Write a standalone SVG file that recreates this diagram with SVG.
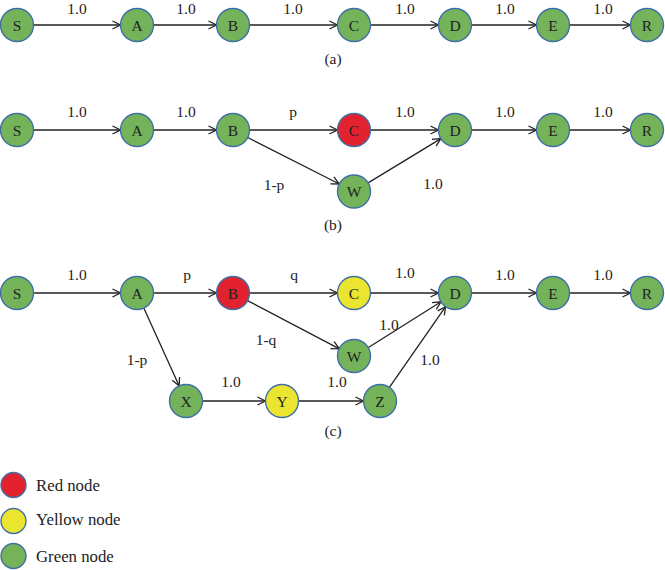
<svg xmlns="http://www.w3.org/2000/svg" width="665" height="570" viewBox="0 0 665 570">
<defs>
<marker id="arr" markerUnits="userSpaceOnUse" markerWidth="12" markerHeight="12" refX="9" refY="5" orient="auto">
<path d="M1,1 L9,5 L1,9" fill="none" stroke="#222" stroke-width="1.3"/>
</marker>
<style>
.n{stroke:#3f6fa6;stroke-width:1.4}
.g{fill:#74b35a}.r{fill:#e3222f}.y{fill:#ece52f}
.t{font-family:"Liberation Serif",serif;font-size:15.5px;fill:#222;text-anchor:middle}
.lt{font-family:"Liberation Serif",serif;font-size:16.8px;fill:#222}
.e{stroke:#222;stroke-width:1.3;fill:none;marker-end:url(#arr)}
</style>
</defs>
<rect width="665" height="570" fill="#fff"/>
<g id="connectors">
<line class="e" x1="33.5" y1="25" x2="120.5" y2="25"/>
<line class="e" x1="153.5" y1="25" x2="216.5" y2="25"/>
<line class="e" x1="249.5" y1="25" x2="337.5" y2="25"/>
<line class="e" x1="370.5" y1="25" x2="438.5" y2="25"/>
<line class="e" x1="471.5" y1="25" x2="536.5" y2="25"/>
<line class="e" x1="569.5" y1="25" x2="630.5" y2="25"/>
<line class="e" x1="33.5" y1="130" x2="120.5" y2="130"/>
<line class="e" x1="153.5" y1="130" x2="216.5" y2="130"/>
<line class="e" x1="249.5" y1="130" x2="337.5" y2="130"/>
<line class="e" x1="370.5" y1="130" x2="438.5" y2="130"/>
<line class="e" x1="471.5" y1="130" x2="536.5" y2="130"/>
<line class="e" x1="569.5" y1="130" x2="630.5" y2="130"/>
<line class="e" x1="247.7" y1="137.5" x2="339.3" y2="184"/>
<line class="e" x1="368.1" y1="182.9" x2="440.9" y2="138.6"/>
<line class="e" x1="33.5" y1="293" x2="120.5" y2="293"/>
<line class="e" x1="153.5" y1="293" x2="216.5" y2="293"/>
<line class="e" x1="249.5" y1="293" x2="337.5" y2="293"/>
<line class="e" x1="370.5" y1="293" x2="438.5" y2="293"/>
<line class="e" x1="471.5" y1="293" x2="536.5" y2="293"/>
<line class="e" x1="569.5" y1="293" x2="630.5" y2="293"/>
<line class="e" x1="247.6" y1="300.7" x2="339.4" y2="348.8"/>
<line class="e" x1="368" y1="347.7" x2="441" y2="301.8"/>
<line class="e" x1="389.4" y1="387.4" x2="445.6" y2="306.6"/>
<line class="e" x1="143.8" y1="308" x2="179.2" y2="386"/>
<line class="e" x1="202.5" y1="401" x2="265.5" y2="401"/>
<line class="e" x1="298.5" y1="401" x2="363.5" y2="401"/>
</g>
<g id="edge-labels" class="t">
<text x="77" y="13.5">1.0</text><text x="186" y="13.5">1.0</text><text x="293" y="13.5">1.0</text><text x="405" y="13.5">1.0</text><text x="505" y="13.5">1.0</text><text x="603" y="13.5">1.0</text>
<text x="77" y="117">1.0</text><text x="186" y="117">1.0</text><text x="293" y="117">p</text><text x="405" y="117">1.0</text><text x="505" y="117">1.0</text><text x="603" y="117">1.0</text>
<text x="274" y="190">1-p</text><text x="433" y="189">1.0</text>
<text x="77" y="280">1.0</text><text x="187" y="280">p</text><text x="294" y="280">q</text><text x="405" y="278">1.0</text><text x="505" y="280">1.0</text><text x="603" y="280">1.0</text>
<text x="266" y="345">1-q</text><text x="389" y="330">1.0</text><text x="137" y="365">1-p</text><text x="430" y="365">1.0</text>
<text x="231" y="387">1.0</text><text x="337" y="387">1.0</text>
</g>
<g id="captions" class="t">
<text x="333" y="64">(a)</text><text x="333" y="230">(b)</text><text x="333" y="436">(c)</text>
</g>
<g id="a-S"><circle class="n g" cx="17" cy="25" r="16.5"/><text class="t" x="17" y="30.5">S</text></g>
<g id="a-A"><circle class="n g" cx="137" cy="25" r="16.5"/><text class="t" x="137" y="30.5">A</text></g>
<g id="a-B"><circle class="n g" cx="233" cy="25" r="16.5"/><text class="t" x="233" y="30.5">B</text></g>
<g id="a-C"><circle class="n g" cx="354" cy="25" r="16.5"/><text class="t" x="354" y="30.5">C</text></g>
<g id="a-D"><circle class="n g" cx="455" cy="25" r="16.5"/><text class="t" x="455" y="30.5">D</text></g>
<g id="a-E"><circle class="n g" cx="553" cy="25" r="16.5"/><text class="t" x="553" y="30.5">E</text></g>
<g id="a-R"><circle class="n g" cx="647" cy="25" r="16.5"/><text class="t" x="647" y="30.5">R</text></g>
<g id="b-S"><circle class="n g" cx="17" cy="130" r="16.5"/><text class="t" x="17" y="135.5">S</text></g>
<g id="b-A"><circle class="n g" cx="137" cy="130" r="16.5"/><text class="t" x="137" y="135.5">A</text></g>
<g id="b-B"><circle class="n g" cx="233" cy="130" r="16.5"/><text class="t" x="233" y="135.5">B</text></g>
<g id="b-C"><circle class="n r" cx="354" cy="130" r="16.5"/><text class="t" x="354" y="135.5">C</text></g>
<g id="b-D"><circle class="n g" cx="455" cy="130" r="16.5"/><text class="t" x="455" y="135.5">D</text></g>
<g id="b-E"><circle class="n g" cx="553" cy="130" r="16.5"/><text class="t" x="553" y="135.5">E</text></g>
<g id="b-R"><circle class="n g" cx="647" cy="130" r="16.5"/><text class="t" x="647" y="135.5">R</text></g>
<g id="b-W"><circle class="n g" cx="354" cy="191.5" r="16.5"/><text class="t" x="354" y="197">W</text></g>
<g id="c-S"><circle class="n g" cx="17" cy="293" r="16.5"/><text class="t" x="17" y="298.5">S</text></g>
<g id="c-A"><circle class="n g" cx="137" cy="293" r="16.5"/><text class="t" x="137" y="298.5">A</text></g>
<g id="c-B"><circle class="n r" cx="233" cy="293" r="16.5"/><text class="t" x="233" y="298.5">B</text></g>
<g id="c-C"><circle class="n y" cx="354" cy="293" r="16.5"/><text class="t" x="354" y="298.5">C</text></g>
<g id="c-D"><circle class="n g" cx="455" cy="293" r="16.5"/><text class="t" x="455" y="298.5">D</text></g>
<g id="c-E"><circle class="n g" cx="553" cy="293" r="16.5"/><text class="t" x="553" y="298.5">E</text></g>
<g id="c-R"><circle class="n g" cx="647" cy="293" r="16.5"/><text class="t" x="647" y="298.5">R</text></g>
<g id="c-W"><circle class="n g" cx="354" cy="356" r="16.5"/><text class="t" x="354" y="361.5">W</text></g>
<g id="c-X"><circle class="n g" cx="186" cy="401" r="16.5"/><text class="t" x="186" y="406.5">X</text></g>
<g id="c-Y"><circle class="n y" cx="282" cy="401" r="16.5"/><text class="t" x="282" y="406.5">Y</text></g>
<g id="c-Z"><circle class="n g" cx="380" cy="401" r="16.5"/><text class="t" x="380" y="406.5">Z</text></g>
<g id="legend-red"><circle class="n r" cx="13.5" cy="485" r="12.5"/><text class="lt" x="36" y="491">Red node</text></g>
<g id="legend-yellow"><circle class="n y" cx="13.5" cy="521" r="12.5"/><text class="lt" x="36" y="525">Yellow node</text></g>
<g id="legend-green"><circle class="n g" cx="13.5" cy="556" r="12.5"/><text class="lt" x="36" y="562">Green node</text></g>
</svg>
